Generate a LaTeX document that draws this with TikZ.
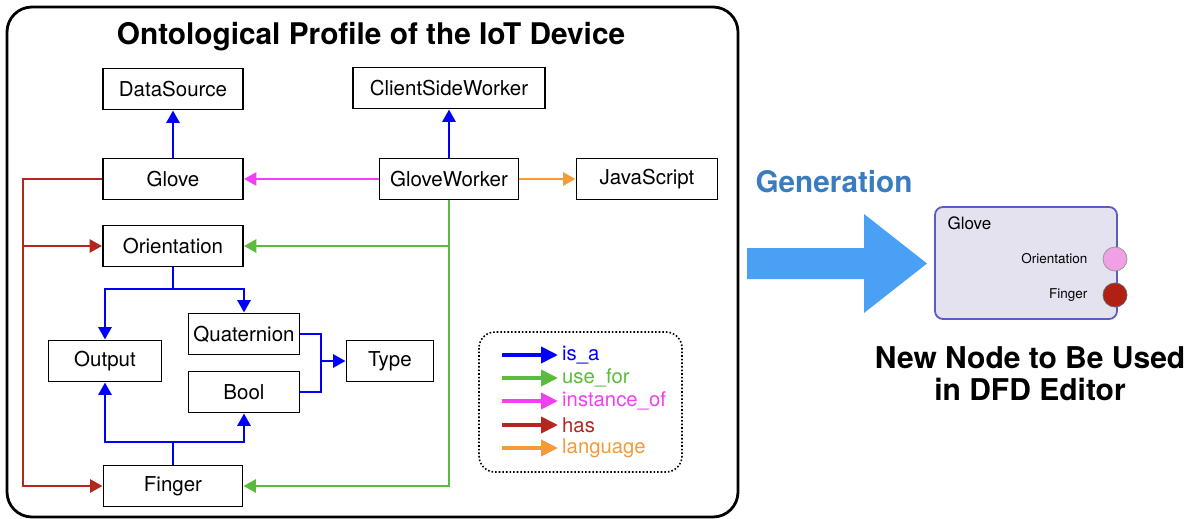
\documentclass[tikz,border=0pt]{standalone}
\usepackage{fontspec}
\setmainfont{TeX Gyre Heros}
\usetikzlibrary{arrows.meta}
\definecolor{isablue}{RGB}{0,0,250}
\definecolor{usegreen}{RGB}{92,186,60}
\definecolor{instmag}{RGB}{240,64,240}
\definecolor{hasred}{RGB}{178,40,30}
\definecolor{langorange}{RGB}{242,155,56}
\definecolor{genblue}{RGB}{58,124,192}
\definecolor{bigarrow}{RGB}{74,160,245}
\definecolor{dfdfill}{RGB}{228,226,238}
\definecolor{dfdline}{RGB}{92,92,200}
\definecolor{portpink}{RGB}{240,160,228}
\definecolor{portred}{RGB}{176,32,20}
\tikzset{
  cls/.style={draw, line width=1.9pt, minimum height=41pt, inner sep=0pt, font=\fontsize{20.5}{23}\selectfont},
  rel/.style={line width=2.9pt, -{Triangle[length=12.5pt,width=13pt]}},
  relplain/.style={line width=2.9pt},
  isa/.style={rel, isablue},
  usefor/.style={rel, usegreen},
  inst/.style={rel, instmag},
  has/.style={rel, hasred},
  lang/.style={rel, langorange},
  legarrow/.style={line width=3.8pt, -{Triangle[length=17pt,width=16pt]}},
  leglabel/.style={anchor=west, inner sep=0pt, font=\fontsize{20.3}{23}\selectfont},
}
\begin{document}
\begin{tikzpicture}[x=1pt,y=-1pt]
\useasboundingbox (0,0) rectangle (1194,519);

% frame of the ontology profile
\draw[line width=2.8pt, rounded corners=25pt] (7,7) rectangle (738,517);
\node[font=\bfseries\fontsize{29.8}{33}\selectfont] (title) at (371,37) {Ontological Profile of the IoT Device};

% classes
\node[cls, minimum width=140pt] (datasource) at (173,89) {DataSource};
\node[cls, minimum width=140pt] (glove) at (173,179) {Glove};
\node[cls, minimum width=140pt] (orient) at (173,246) {Orientation};
\node[cls, minimum width=192pt] (csw) at (449,88) {ClientSideWorker};
\node[cls, minimum width=139pt] (gw) at (449,179) {GloveWorker};
\node[cls, minimum width=141pt] (js) at (647,179) {JavaScript};
\node[cls, minimum width=113pt] (output) at (105,361) {Output};
\node[cls, minimum width=111pt] (quat) at (244,334) {Quaternion};
\node[cls, minimum width=111pt] (bool) at (244,392) {Bool};
\node[cls, minimum width=87pt] (type) at (390,361) {Type};
\node[cls, minimum width=139pt] (finger) at (173,486) {Finger};

% junction points
\coordinate (rx) at (23,0);
\coordinate (ojoin) at (173,289);
\coordinate (fjoin) at (173,442);
\coordinate (tjoin) at (321,361);

% is_a
\draw[isa] (glove) -- (datasource);
\draw[isa] (gw.north) -- (gw.north |- csw.south);
\draw[relplain, isablue] (orient.south) -- (ojoin);
\draw[isa] (ojoin) -| (output.north);
\draw[isa] (ojoin) -| (quat.north);
\draw[relplain, isablue] (finger.north) -- (fjoin);
\draw[isa] (fjoin) -| (output.south);
\draw[isa] (fjoin) -| (bool.south);
\draw[relplain, isablue] (quat.east) -| (tjoin);
\draw[relplain, isablue] (bool.east) -| (tjoin);
\draw[isa] (tjoin) -- (type.west);

% instance_of and language
\draw[inst] (gw) -- (glove);
\draw[lang] (gw) -- (js);

% has
\draw[has] (glove.west) -- (glove.west -| rx) |- (finger.west);
\draw[has] (orient.west -| rx) -- (orient.west);

% use_for
\draw[usefor] (gw.south) |- (finger.east);
\draw[usefor] (gw.south |- orient.east) -- (orient.east);

% legend
\draw[dotted, line width=1.6pt, rounded corners=16pt] (479,332) rectangle (682,472);
\node[leglabel, isablue] (lisa) at (562,355) {is\_a};
\node[leglabel, usegreen] (luse) at (562,378) {use\_for};
\node[leglabel, instmag] (linst) at (562,401) {instance\_of};
\node[leglabel, hasred] (lhas) at (562,425) {has};
\node[leglabel, langorange] (llang) at (562,448) {language};
\foreach \n/\c in {lisa/isablue, luse/usegreen, linst/instmag, lhas/hasred, llang/langorange}{
  \draw[legarrow, \c] ([xshift=-60pt]\n.west) -- ([xshift=-4pt]\n.west);
}

% generation arrow
\node[font=\bfseries\fontsize{29.7}{33}\selectfont, text=genblue] (gen) at (834,182) {Generation};
\fill[bigarrow] (747,248) -- (864,248) -- (864,214) -- (927,263.5) -- (864,313) -- (864,279) -- (747,279) -- cycle;

% generated DFD node
\node[draw=dfdline, fill=dfdfill, line width=1.8pt, rounded corners=8pt, minimum width=182pt, minimum height=112pt] (dfd) at (1026,263) {};
\node[anchor=west, font=\fontsize{17}{20}\selectfont] (dfdname) at (944,223) {Glove};
\node[anchor=east, font=\fontsize{13.5}{16}\selectfont] (portoname) at (1091,259) {Orientation};
\node[anchor=east, font=\fontsize{13.5}{16}\selectfont] (portfname) at (1091,295) {Finger};
\node[circle, draw=gray!80, fill=portpink, line width=0.8pt, minimum size=24pt, inner sep=0pt] (porto) at (1115,259) {};
\node[circle, draw=black!60, fill=portred, line width=0.8pt, minimum size=24pt, inner sep=0pt] (portf) at (1115,295) {};

\node[font=\bfseries\fontsize{30}{32}\selectfont, align=center] (caption) at (1030,374) {New Node to Be Used\\in DFD Editor};
\end{tikzpicture}
\end{document}
